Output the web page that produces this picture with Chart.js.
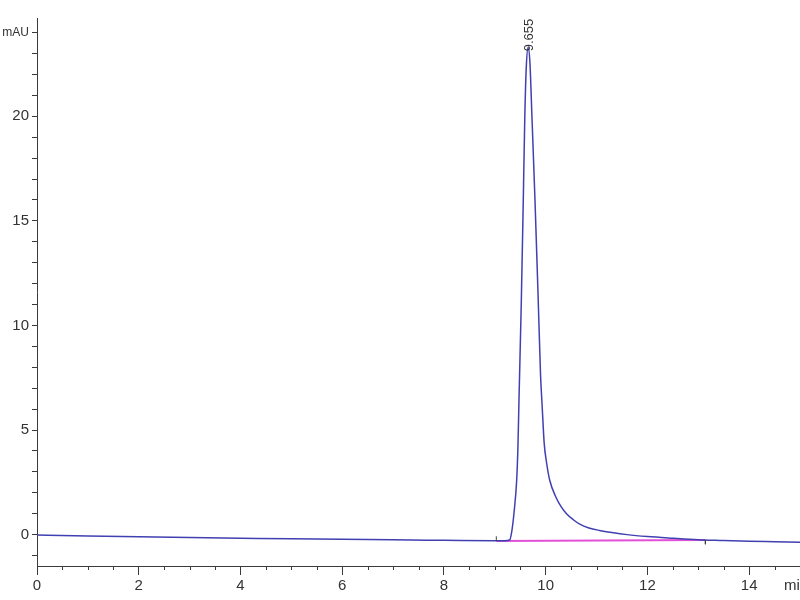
<!DOCTYPE html>
<html>
<head>
<meta charset="utf-8">
<script src="https://cdn.jsdelivr.net/npm/chart.js@4.4.1/dist/chart.umd.min.js"></script>
<style>
    body { margin: 0; background: #fff; }
    #chrom { display: block; }
</style>
</head>
<body>
<canvas id="chrom" width="800" height="600"></canvas>
<script>
// Datos del cromatograma (min, mAU)
const tiempos = [0, 1, 2, 3, 4, 5, 6, 7, 8, 9, 9.2, 9.29, 9.33, 9.376, 9.43, 9.455, 9.475, 9.52, 9.56, 9.59, 9.62, 9.655,
    9.69, 9.73, 9.79, 9.85, 9.9, 9.93, 9.97, 10.02, 10.08, 10.2, 10.3, 10.41, 10.55, 10.67, 10.85, 11.06, 11.3, 11.6,
    12, 12.5, 13, 13.5, 14, 14.5, 15];
const senal = [-0.02, -0.06, -0.1, -0.14, -0.17, -0.2, -0.22, -0.25, -0.27, -0.29, -0.29, -0.26, 0.1, 1.0, 2.6, 4.2, 6.4, 11, 16, 20, 22.4, 23.3,
    22.6, 20, 16, 11.5, 7.6, 6.2, 4.4, 3.4, 2.6, 1.8, 1.35, 1.0, 0.7, 0.5, 0.32, 0.2, 0.1, 0.0,
    -0.09, -0.17, -0.24, -0.28, -0.32, -0.34, -0.36];

// Línea base de integración
const baseTiempos = [9.03, 13.14];
const baseValores = [-0.3, -0.26];

// Marcas de inicio / fin de integración
const marcaInicio = [-0.3, -0.08];
const marcaFin = [-0.26, -0.46];

// Pico
const picoTiempo = 9.655;
const picoAltura = 23.3;
const picoEtiqueta = '9.655';

// Ejes
const xEtiquetas = [0, 2, 4, 6, 8, 10, 12, 14];
const xMenores = [0.5, 1, 1.5, 2.5, 3, 3.5, 4.5, 5, 5.5, 6.5, 7, 7.5, 8.5, 9, 9.5, 10.5, 11, 11.5, 12.5, 13, 13.5, 14.5];
const yEtiquetas = [0, 5, 10, 15, 20];
const yTicks = [-1, 0, 1, 2, 3, 4, 5, 6, 7, 8, 9, 10, 11, 12, 13, 14, 15, 16, 17, 18, 19, 20, 21, 22, 23, 24];
const yUnidad = 'mAU';
const xUnidad = 'min';

const fuente = "'Liberation Sans', Arial, sans-serif";
const colorEje = '#3a3a3a';

const decor = {
    id: 'decor',
    afterDraw(chart) {
        const ctx = chart.ctx;
        const x = chart.scales.x;
        const y = chart.scales.y;
        ctx.save();

        // ticks menores del eje x
        ctx.strokeStyle = colorEje;
        ctx.lineWidth = 1;
        xMenores.forEach(v => {
            const px = Math.round(x.getPixelForValue(v)) + 0.5;
            ctx.beginPath();
            ctx.moveTo(px, x.top);
            ctx.lineTo(px, x.top + 4);
            ctx.stroke();
        });

        // etiqueta del pico
        ctx.fillStyle = '#333';
        ctx.font = '13px ' + fuente;
        ctx.translate(x.getPixelForValue(picoTiempo) + 1, y.getPixelForValue(picoAltura) + 4);
        ctx.rotate(-Math.PI / 2);
        ctx.textAlign = 'left';
        ctx.textBaseline = 'middle';
        ctx.fillText(picoEtiqueta, 0, 0);
        ctx.restore();

        // unidad del eje x
        ctx.save();
        ctx.fillStyle = '#333';
        ctx.font = '15px ' + fuente;
        ctx.textAlign = 'left';
        ctx.textBaseline = 'top';
        ctx.fillText(xUnidad, x.right - 16, x.top + 12);
        ctx.restore();
    }
};

const ctx = document.getElementById('chrom').getContext('2d');

new Chart(ctx, {
    type: 'line',
    data: {
        datasets: [
            {
                label: 'Señal',
                data: tiempos.map((t, i) => ({ x: t, y: senal[i] })),
                borderColor: 'rgb(64, 64, 178)',
                borderWidth: 1.5,
                pointRadius: 0,
                cubicInterpolationMode: 'monotone',
                order: 1
            },
            {
                label: 'Base',
                data: baseTiempos.map((t, i) => ({ x: t, y: baseValores[i] })),
                borderColor: 'rgb(225, 80, 215)',
                borderWidth: 2,
                pointRadius: 0,
                order: 2
            },
            {
                label: 'Inicio',
                data: marcaInicio.map(v => ({ x: baseTiempos[0], y: v })),
                borderColor: '#444',
                borderWidth: 1,
                pointRadius: 0
            },
            {
                label: 'Fin',
                data: marcaFin.map(v => ({ x: baseTiempos[1], y: v })),
                borderColor: '#444',
                borderWidth: 1,
                pointRadius: 0
            }
        ]
    },
    options: {
        responsive: false,
        animation: false,
        layout: {
            padding: { top: 18, right: 0, bottom: 0, left: 0 }
        },
        scales: {
            x: {
                type: 'linear',
                min: 0,
                max: 15,
                afterFit: s => { s.height = 34; },
                afterBuildTicks: s => { s.ticks = xEtiquetas.map(v => ({ value: v })); },
                border: { display: true, color: colorEje, width: 1 },
                grid: {
                    drawOnChartArea: false,
                    tickLength: 9,
                    tickColor: colorEje
                },
                ticks: {
                    autoSkip: false,
                    maxRotation: 0,
                    padding: 2,
                    color: '#333',
                    font: { family: fuente, size: 15 },
                    callback: v => String(v)
                }
            },
            y: {
                min: -1.5,
                max: 24.7,
                afterFit: s => { s.width = 37; },
                afterBuildTicks: s => { s.ticks = yTicks.map(v => ({ value: v })); },
                border: { display: true, color: colorEje, width: 1 },
                grid: {
                    drawOnChartArea: false,
                    tickLength: 5,
                    tickColor: colorEje
                },
                ticks: {
                    autoSkip: false,
                    padding: 3,
                    color: '#333',
                    font: c => ({ family: fuente, size: c.tick && c.tick.value === 24 ? 12 : 15 }),
                    callback: v => v === 24 ? yUnidad : (yEtiquetas.includes(v) ? String(v) : '')
                }
            }
        },
        plugins: {
            legend: { display: false },
            tooltip: { enabled: false }
        }
    },
    plugins: [decor]
});
</script>
</body>
</html>
